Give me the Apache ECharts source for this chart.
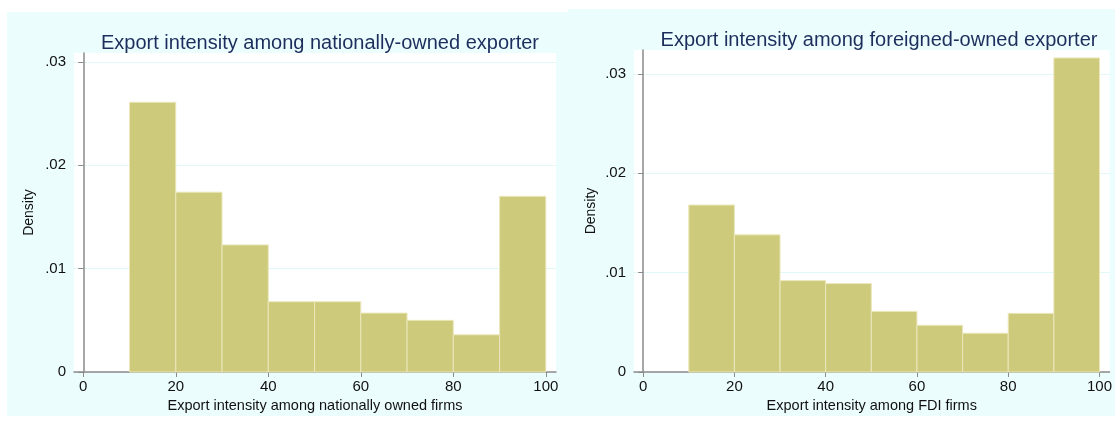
<!DOCTYPE html>
<html>
<head>
<meta charset="utf-8">
<script src="https://cdn.jsdelivr.net/npm/echarts@6/dist/echarts.min.js"></script>
<style>
  html, body { margin: 0; padding: 0; background: #ffffff; }
  #chart { width: 1115px; height: 421px; }
</style>
</head>
<body>
<div id="chart"></div>
<script>
// bin edges (export intensity, %)
var binStart = [10, 20, 30, 40, 50, 60, 70, 80, 90];
var binEnd = [20, 30, 40, 50, 60, 70, 80, 90, 100];
// densities
var nationalDensity = [0.0261, 0.0174, 0.0123, 0.0068, 0.0068, 0.0057, 0.0050, 0.0036, 0.0170];
var foreignDensity = [0.0168, 0.0138, 0.0092, 0.0089, 0.0061, 0.0047, 0.0039, 0.0059, 0.0316];
// tick labels
var xTicks = [0, 20, 40, 60, 80, 100];
var yTicks = [0, 0.01, 0.02, 0.03];

var barColor = '#cdcb7b';
var edgeColor = '#ebe7bb';
var panelBg = '#ecfdfe';
var titleColor = '#1c2e5c';
var font = '"Liberation Sans", Arial, sans-serif';

function binRows(density) {
  var rows = [];
  for (var i = 0; i < density.length; i++) {
    rows.push([binStart[i], binEnd[i], density[i]]);
  }
  return rows;
}

// draw one histogram bar from the axis scales
function renderBin(params, api) {
  var topLeft = api.coord([api.value(0), api.value(2)]);
  var bottomRight = api.coord([api.value(1), 0]);
  return {
    type: 'rect',
    shape: {
      x: topLeft[0],
      y: topLeft[1],
      width: bottomRight[0] - topLeft[0],
      height: bottomRight[1] - topLeft[1]
    },
    style: { fill: barColor, stroke: edgeColor, lineWidth: 1 }
  };
}

function yLabel(v) {
  if (v === 0) return '0';
  return v.toFixed(2).replace(/^0/, '');
}

function xAxisOpt(gridIndex, name) {
  return {
    type: 'value',
    gridIndex: gridIndex,
    min: -2,
    max: 102.2,
    name: name,
    nameLocation: 'middle',
    nameGap: 22,
    nameTextStyle: { color: '#111', fontSize: 14.5, fontFamily: font },
    axisLine: { show: true, onZero: false, lineStyle: { color: '#8a8a8a', width: 1.5 } },
    axisTick: { show: true, length: 5, customValues: xTicks, lineStyle: { color: '#8a8a8a' } },
    axisLabel: { customValues: xTicks, margin: 7, color: '#111', fontSize: 15, fontFamily: font },
    splitLine: { show: false }
  };
}

function yAxisOpt(gridIndex, max, gap) {
  return {
    type: 'value',
    gridIndex: gridIndex,
    min: 0,
    max: max,
    name: 'Density',
    nameLocation: 'middle',
    nameGap: gap,
    nameTextStyle: { color: '#111', fontSize: 14, fontFamily: font },
    axisLine: { show: true, lineStyle: { color: '#8a8a8a', width: 1.5 } },
    axisTick: { show: true, length: 5, customValues: yTicks, lineStyle: { color: '#8a8a8a' } },
    axisLabel: { customValues: yTicks, margin: 8, color: '#111', fontSize: 15, fontFamily: font, formatter: yLabel },
    splitLine: { show: true, customValues: yTicks, lineStyle: { color: '#e2f7f8', width: 1 } }
  };
}

var chart = echarts.init(document.getElementById('chart'), null, { renderer: 'canvas' });

var option = {
  backgroundColor: '#ffffff',
  animation: false,
  graphic: [
    { type: 'rect', z: -10, shape: { x: 7, y: 12, width: 561, height: 404 }, style: { fill: panelBg } },
    { type: 'rect', z: -10, shape: { x: 568, y: 9, width: 547, height: 407 }, style: { fill: panelBg } }
  ],
  title: [
    {
      text: 'Export intensity among nationally-owned exporter',
      left: 315, top: 28, textAlign: 'center',
      textStyle: { color: titleColor, fontSize: 20, fontWeight: 'normal', fontFamily: font }
    },
    {
      text: 'Export intensity among foreigned-owned exporter',
      left: 874, top: 25, textAlign: 'center',
      textStyle: { color: titleColor, fontSize: 20, fontWeight: 'normal', fontFamily: font }
    }
  ],
  grid: [
    { left: 74, top: 53, right: 559, bottom: 49, show: true, backgroundColor: '#ffffff', borderWidth: 0 },
    { left: 634, top: 50, right: 0, bottom: 49, show: true, backgroundColor: '#ffffff', borderWidth: 0 }
  ],
  xAxis: [
    xAxisOpt(0, 'Export intensity among nationally owned firms'),
    xAxisOpt(1, 'Export intensity among FDI firms')
  ],
  yAxis: [
    yAxisOpt(0, 0.03087, 38),
    yAxisOpt(1, 0.0324, 36)
  ],
  series: [
    {
      type: 'custom',
      xAxisIndex: 0, yAxisIndex: 0,
      renderItem: renderBin,
      encode: { x: [0, 1], y: 2 },
      data: binRows(nationalDensity)
    },
    {
      type: 'custom',
      xAxisIndex: 1, yAxisIndex: 1,
      renderItem: renderBin,
      encode: { x: [0, 1], y: 2 },
      data: binRows(foreignDensity)
    }
  ]
};

chart.setOption(option);
</script>
</body>
</html>
